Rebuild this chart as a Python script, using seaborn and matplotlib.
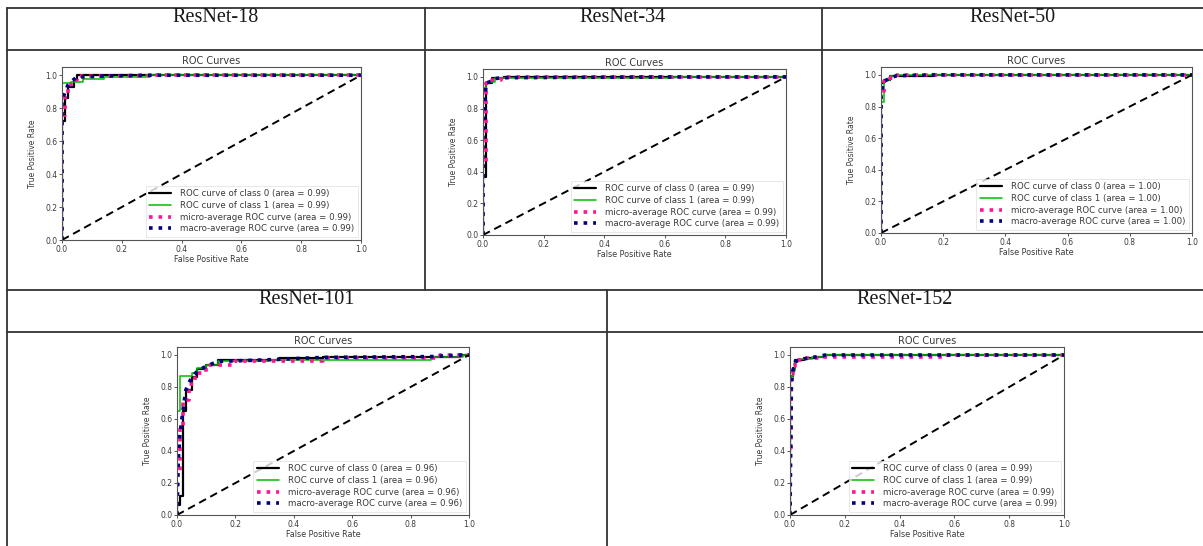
import matplotlib
matplotlib.use("Agg")
import matplotlib.pyplot as plt
from matplotlib.lines import Line2D
import seaborn as sns

sns.set_style("white")
plt.rcParams["font.family"] = ["DejaVu Sans"]

W, H = 1203, 546

models = ["ResNet-18", "ResNet-34", "ResNet-50", "ResNet-101", "ResNet-152"]
auc_class0 = [0.99, 0.99, 1.00, 0.96, 0.99]
auc_class1 = [0.99, 0.99, 1.00, 0.96, 0.99]
auc_micro = [0.99, 0.99, 1.00, 0.96, 0.99]
auc_macro = [0.99, 0.99, 1.00, 0.96, 0.99]

chance_fpr = [0.0, 1.0]
chance_tpr = [0.0, 1.0]

# ResNet-18
r18_c0_fpr = [0, 0, 0.01, 0.01, 0.02, 0.02, 0.04, 0.04, 0.05, 0.05, 1]
r18_c0_tpr = [0, 0.72, 0.72, 0.86, 0.86, 0.93, 0.93, 0.97, 0.97, 1.0, 1]
r18_c1_fpr = [0, 0, 0.03, 0.03, 0.07, 0.07, 0.14, 0.14, 0.28, 0.28, 1]
r18_c1_tpr = [0, 0.95, 0.95, 0.96, 0.96, 0.98, 0.98, 0.99, 0.99, 1.0, 1]
r18_mi_fpr = [0, 0, 0.01, 0.01, 0.02, 0.02, 0.03, 0.03, 0.05, 0.05, 0.3, 0.3, 1]
r18_mi_tpr = [0, 0.76, 0.76, 0.88, 0.88, 0.93, 0.93, 0.97, 0.97, 0.995, 0.995, 1.0, 1]
r18_ma_fpr = [0, 0, 0.01, 0.02, 0.03, 0.05, 0.07, 0.14, 0.28, 1]
r18_ma_tpr = [0, 0.84, 0.90, 0.94, 0.96, 0.99, 0.99, 0.995, 1.0, 1]

# ResNet-34
r34_c0_fpr = [0, 0, 0.01, 0.01, 0.03, 0.03, 0.07, 0.07, 1]
r34_c0_tpr = [0, 0.37, 0.37, 0.96, 0.96, 0.99, 0.99, 1.0, 1]
r34_c1_fpr = [0, 0, 0.01, 0.01, 0.04, 0.04, 0.63, 0.63, 1]
r34_c1_tpr = [0, 0.93, 0.93, 0.97, 0.97, 0.99, 0.99, 1.0, 1]
r34_mi_fpr = [0, 0, 0.01, 0.01, 0.03, 0.03, 0.06, 0.06, 1]
r34_mi_tpr = [0, 0.45, 0.45, 0.96, 0.96, 0.98, 0.98, 1.0, 1]
r34_ma_fpr = [0, 0, 0.01, 0.03, 0.04, 0.07, 0.63, 1]
r34_ma_tpr = [0, 0.65, 0.96, 0.975, 0.99, 0.995, 1.0, 1]

# ResNet-50
r50_c0_fpr = [0, 0, 0.01, 0.01, 0.03, 0.03, 0.17, 0.17, 1]
r50_c0_tpr = [0, 0.95, 0.95, 0.97, 0.97, 0.99, 0.99, 1.0, 1]
r50_c1_fpr = [0, 0, 0.01, 0.01, 0.03, 0.03, 0.05, 0.05, 1]
r50_c1_tpr = [0, 0.83, 0.83, 0.97, 0.97, 0.99, 0.99, 1.0, 1]
r50_mi_fpr = [0, 0, 0.01, 0.01, 0.03, 0.03, 0.05, 0.05, 1]
r50_mi_tpr = [0, 0.86, 0.86, 0.96, 0.96, 0.98, 0.98, 1.0, 1]
r50_ma_fpr = [0, 0, 0.01, 0.03, 0.05, 0.17, 1]
r50_ma_tpr = [0, 0.89, 0.96, 0.98, 0.995, 1.0, 1]

# ResNet-101
r101_c0_fpr = [0, 0, 0.01, 0.01, 0.02, 0.02, 0.03, 0.03, 0.05, 0.05, 0.07, 0.07,
               0.10, 0.10, 0.14, 0.14, 0.35, 0.35, 0.50, 0.50, 0.97, 0.97, 1]
r101_c0_tpr = [0, 0.06, 0.06, 0.12, 0.12, 0.65, 0.65, 0.78, 0.78, 0.86, 0.86, 0.91,
               0.91, 0.94, 0.94, 0.97, 0.97, 0.98, 0.98, 0.99, 0.99, 1.0, 1]
r101_c1_fpr = [0, 0, 0.01, 0.01, 0.05, 0.05, 0.07, 0.07, 0.10, 0.10, 0.14, 0.14,
               0.31, 0.31, 0.87, 0.87, 0.98, 0.98, 1]
r101_c1_tpr = [0, 0.65, 0.65, 0.87, 0.87, 0.89, 0.89, 0.92, 0.92, 0.94, 0.94, 0.96,
               0.96, 0.97, 0.97, 0.99, 0.99, 1.0, 1]
r101_mi_fpr = [0, 0, 0.01, 0.01, 0.02, 0.02, 0.04, 0.04, 0.06, 0.06, 0.10, 0.10,
               0.20, 0.20, 0.50, 0.50, 0.90, 0.90, 1]
r101_mi_tpr = [0, 0.25, 0.25, 0.55, 0.55, 0.72, 0.72, 0.82, 0.82, 0.89, 0.89, 0.94,
               0.94, 0.965, 0.965, 0.98, 0.98, 1.0, 1]
r101_ma_fpr = [0, 0.005, 0.01, 0.02, 0.03, 0.05, 0.07, 0.10, 0.14, 0.31, 0.50, 0.87, 0.97, 1]
r101_ma_tpr = [0, 0.36, 0.50, 0.65, 0.78, 0.86, 0.90, 0.93, 0.96, 0.97, 0.985, 0.99, 1.0, 1]

# ResNet-152
r152_c0_fpr = [0, 0, 0.01, 0.01, 0.02, 0.02, 0.05, 0.05, 0.10, 0.10, 0.13, 0.13, 1]
r152_c0_tpr = [0, 0.87, 0.87, 0.92, 0.92, 0.97, 0.97, 0.98, 0.98, 0.99, 0.99, 1.0, 1]
r152_c1_fpr = [0, 0, 0.01, 0.01, 0.02, 0.02, 0.03, 0.03, 0.08, 0.08, 0.13, 0.13, 1]
r152_c1_tpr = [0, 0.87, 0.87, 0.90, 0.90, 0.96, 0.96, 0.975, 0.975, 0.99, 0.99, 1.0, 1]
r152_mi_fpr = [0, 0, 0.005, 0.005, 0.01, 0.01, 0.02, 0.02, 0.05, 0.05, 0.12, 0.12, 0.56, 0.56, 1]
r152_mi_tpr = [0, 0.42, 0.42, 0.88, 0.88, 0.93, 0.93, 0.97, 0.97, 0.98, 0.98, 0.99, 0.99, 1.0, 1]
r152_ma_fpr = [0, 0.005, 0.01, 0.02, 0.05, 0.10, 0.13, 1]
r152_ma_tpr = [0, 0.80, 0.90, 0.96, 0.975, 0.99, 1.0, 1]

curves = [
    ((r18_c0_fpr, r18_c0_tpr), (r18_c1_fpr, r18_c1_tpr), (r18_mi_fpr, r18_mi_tpr), (r18_ma_fpr, r18_ma_tpr)),
    ((r34_c0_fpr, r34_c0_tpr), (r34_c1_fpr, r34_c1_tpr), (r34_mi_fpr, r34_mi_tpr), (r34_ma_fpr, r34_ma_tpr)),
    ((r50_c0_fpr, r50_c0_tpr), (r50_c1_fpr, r50_c1_tpr), (r50_mi_fpr, r50_mi_tpr), (r50_ma_fpr, r50_ma_tpr)),
    ((r101_c0_fpr, r101_c0_tpr), (r101_c1_fpr, r101_c1_tpr), (r101_mi_fpr, r101_mi_tpr), (r101_ma_fpr, r101_ma_tpr)),
    ((r152_c0_fpr, r152_c0_tpr), (r152_c1_fpr, r152_c1_tpr), (r152_mi_fpr, r152_mi_tpr), (r152_ma_fpr, r152_ma_tpr)),
]

# plot boxes in pixels: left, top, right, bottom (top edge sits at TPR = 1.05)
axes_px = [
    (62, 67, 361, 240),
    (483, 69, 786, 235),
    (881, 67, 1192, 233),
    (177, 347, 469, 515),
    (790, 347, 1064, 515),
]
# table header cells: centre x, centre y
header_px = [(216, 18), (623, 18), (1012, 18), (307, 299), (905, 299)]

fig = plt.figure(figsize=(W / 100, H / 100), dpi=100)
fig.patch.set_facecolor("white")

# table grid
grid_col = "#333333"
def hline(y, x0, x1):
    fig.add_artist(Line2D([x0 / W, x1 / W], [1 - y / H, 1 - y / H], color=grid_col, lw=1.3))
def vline(x, y0, y1):
    fig.add_artist(Line2D([x / W, x / W], [1 - y0 / H, 1 - y1 / H], color=grid_col, lw=1.3))

for y in (8, 50, 290, 332):
    hline(y, 7, W)
vline(7, 8, H)
vline(425, 8, 290)
vline(822, 8, 290)
vline(607, 290, H)

for name, (cx, cy) in zip(models, header_px):
    fig.text(cx / W, 1 - cy / H, name, ha="center", va="center",
             fontsize=14.5, family="Liberation Serif", color="#1a1a1a")

c1_color = plt.cm.nipy_spectral(0.5)
txt = "#3a3a3a"

for i, (box, cv) in enumerate(zip(axes_px, curves)):
    l, t, r, b = box
    ax = fig.add_axes([l / W, 1 - b / H, (r - l) / W, (b - t) / H])
    (f0, t0), (f1, t1), (fm, tm), (fa, ta) = cv
    sns.lineplot(x=f0, y=t0, ax=ax, estimator=None, sort=False, color="black", lw=1.6,
                 label=f"ROC curve of class 0 (area = {auc_class0[i]:0.2f})")
    sns.lineplot(x=f1, y=t1, ax=ax, estimator=None, sort=False, color=c1_color, lw=1.1,
                 label=f"ROC curve of class 1 (area = {auc_class1[i]:0.2f})")
    sns.lineplot(x=fm, y=tm, ax=ax, estimator=None, sort=False, color="deeppink", lw=2.6,
                 linestyle=(0, (1, 1.65)),
                 label=f"micro-average ROC curve (area = {auc_micro[i]:0.2f})")
    sns.lineplot(x=fa, y=ta, ax=ax, estimator=None, sort=False, color="navy", lw=2.6,
                 linestyle=(0, (1, 1.65)),
                 label=f"macro-average ROC curve (area = {auc_macro[i]:0.2f})")
    sns.lineplot(x=chance_fpr, y=chance_tpr, ax=ax, estimator=None, sort=False,
                 color="black", lw=1.4, linestyle=(0, (4, 2.5)))
    ax.set_xlim(0, 1)
    ax.set_ylim(0, 1.05)
    ax.set_xticks([0, 0.2, 0.4, 0.6, 0.8, 1.0])
    ax.set_yticks([0, 0.2, 0.4, 0.6, 0.8, 1.0])
    ax.set_xticklabels(["0.0", "0.2", "0.4", "0.6", "0.8", "1.0"])
    ax.set_yticklabels(["0.0", "0.2", "0.4", "0.6", "0.8", "1.0"])
    ax.tick_params(bottom=True, left=True, length=2, width=0.6, pad=1.5,
                   labelsize=5.5, colors=txt)
    ax.set_title("ROC Curves", fontsize=7, color=txt, pad=2)
    ax.set_xlabel("False Positive Rate", fontsize=5.8, color=txt, labelpad=1)
    ax.set_ylabel("True Positive Rate", fontsize=5.5, color=txt, labelpad=6)
    for sp in ax.spines.values():
        sp.set_color("#555555")
        sp.set_linewidth(0.8)
    leg = ax.legend(loc="lower right", fontsize=6.2, handlelength=2.6, borderaxespad=0.4,
                    labelspacing=0.3, handletextpad=1.0, frameon=True, fancybox=False,
                    labelcolor=txt)
    leg.get_frame().set_edgecolor("#dddddd")
    leg.get_frame().set_linewidth(0.6)

fig.savefig("out.png", dpi=100, facecolor="white")
